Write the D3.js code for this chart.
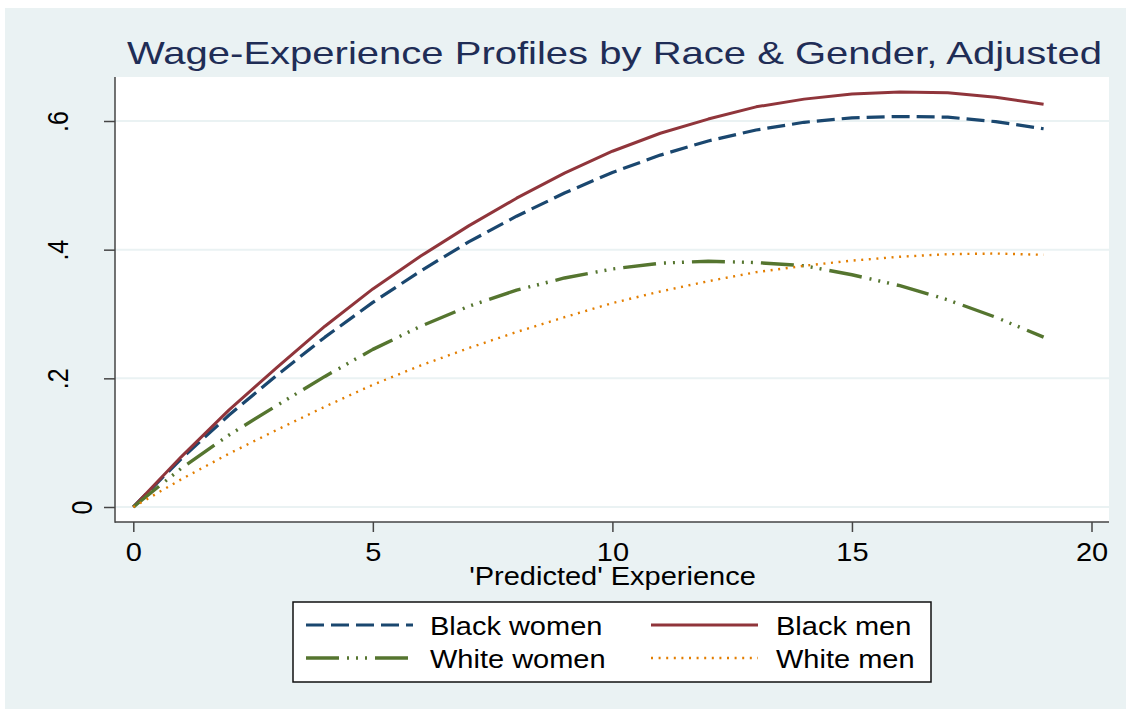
<!DOCTYPE html>
<html>
<head>
<meta charset="utf-8">
<script src="https://cdn.jsdelivr.net/npm/d3@7"></script>
<style>
  html, body { margin: 0; padding: 0; background: #ffffff; }
  svg { display: block; }
  text { font-family: "Liberation Sans", Arial, Helvetica, sans-serif; }
</style>
</head>
<body>
<svg id="chart" width="1126" height="709"></svg>
<script>
// ---------------- data ----------------
const experience = [0,1,2,3,4,5,6,7,8,9,10,11,12,13,14,15,16,17,18,19];
const blackWomen = [0,0.075,0.143,0.205,0.264,0.318,0.367,0.412,0.452,0.488,0.520,0.547,0.569,0.586,0.598,0.605,0.607,0.606,0.599,0.588];
const blackMen   = [0,0.078,0.151,0.217,0.281,0.339,0.390,0.437,0.480,0.519,0.553,0.581,0.603,0.622,0.634,0.642,0.645,0.644,0.637,0.626];
const whiteWomen = [0,0.060,0.112,0.158,0.203,0.245,0.281,0.312,0.337,0.356,0.370,0.379,0.382,0.380,0.375,0.361,0.344,0.322,0.295,0.264];
const whiteMen   = [0,0.043,0.083,0.120,0.156,0.190,0.220,0.247,0.272,0.295,0.317,0.335,0.351,0.365,0.375,0.383,0.389,0.393,0.394,0.392];

const seriesNames = ["Black women","Black men","White women","White men"];
const xTicks = [0,5,10,15,20];
const xTickLabels = ["0","5","10","15","20"];
const yTicks = [0,0.2,0.4,0.6];
const yTickLabels = ["0",".2",".4",".6"];
const titleText = "Wage-Experience Profiles by Race & Gender, Adjusted";
const xTitleText = "'Predicted' Experience";

// ---------------- styles ----------------
const STRETCH = 1.16;
const styles = [
  {color:"#1A476F", width:3.2, dash:"18,7"},
  {color:"#90353B", width:3.0, dash:null},
  {color:"#55752F", width:3.4, dash:"33,8,2,7,2,7,2,8"},
  {color:"#E37E00", width:2.4, dash:"2,5.6"}
];
const seriesData = [blackWomen, blackMen, whiteWomen, whiteMen];

const svg = d3.select("#chart");

// background
svg.append("rect").attr("x",5).attr("y",8).attr("width",1121).attr("height",701).attr("fill","#EAF2F3");

// plot region
const plot = {left:115, right:1109, top:77, bottom:522};
svg.append("rect").attr("x",plot.left).attr("y",plot.top)
  .attr("width",plot.right-plot.left).attr("height",plot.bottom-plot.top).attr("fill","#ffffff");

const x = d3.scaleLinear().domain([0,20]).range([133.3,1091.5]);
const y = d3.scaleLinear().domain([0,0.6]).range([507,121]);

// gridlines
svg.append("g").selectAll("line").data(yTicks).join("line")
  .attr("x1",plot.left).attr("x2",plot.right)
  .attr("y1",d=>y(d)).attr("y2",d=>y(d))
  .attr("stroke","#EAF2F3").attr("stroke-width",2);

// series lines
const line = d3.line().x((d,i)=>x(experience[i])).y(d=>y(d));
seriesData.forEach((vals,k)=>{
  const s = styles[k];
  const p = svg.append("path").datum(vals)
    .attr("d",line).attr("fill","none")
    .attr("stroke",s.color).attr("stroke-width",s.width)
    .attr("stroke-linejoin","round");
  if (s.dash) p.attr("stroke-dasharray",s.dash);
});

// axes
const axisColor = "#454545";
const yAxis = d3.axisLeft(y).tickValues(yTicks).tickSize(11).tickSizeOuter(0)
  .tickFormat((d,i)=>yTickLabels[i]);
const gy = svg.append("g").attr("transform",`translate(${plot.left},0)`).call(yAxis);
gy.select(".domain").remove();
gy.selectAll(".tick line").attr("stroke",axisColor).attr("stroke-width",1.5);
gy.selectAll(".tick text").each(function(d,i){
  const lab = yTickLabels[i];
  const off = 23 + (lab.length-1)*24;
  d3.select(this).attr("x",null).attr("dy",null).attr("y",null)
    .attr("text-anchor","middle")
    .attr("transform",`translate(${-off},0) scale(${STRETCH},1) rotate(-90)`)
    .attr("font-size",25).attr("fill","#000");
});
gy.attr("font-family",null);

const xAxis = d3.axisBottom(x).tickValues(xTicks).tickSize(10).tickSizeOuter(0)
  .tickFormat((d,i)=>xTickLabels[i]);
const gx = svg.append("g").attr("transform",`translate(0,${plot.bottom})`).call(xAxis);
gx.select(".domain").remove();
gx.selectAll(".tick line").attr("stroke",axisColor).attr("stroke-width",1.5);
gx.selectAll(".tick text").attr("y",null).attr("dy",null)
  .attr("transform",`translate(0,39) scale(${STRETCH},1)`)
  .attr("font-size",25).attr("fill","#000");
gx.attr("font-family",null);

// axis lines
svg.append("line").attr("x1",plot.left).attr("x2",plot.left).attr("y1",plot.top).attr("y2",plot.bottom+0.75)
  .attr("stroke",axisColor).attr("stroke-width",1.5);
svg.append("line").attr("x1",plot.left).attr("x2",plot.right).attr("y1",plot.bottom).attr("y2",plot.bottom)
  .attr("stroke",axisColor).attr("stroke-width",1.5);

// title
svg.append("text").attr("x",614.5).attr("y",64).attr("text-anchor","middle")
  .attr("font-size",32).attr("fill","#1F2D56")
  .attr("textLength",975).attr("lengthAdjust","spacingAndGlyphs")
  .text(titleText);

// x title
svg.append("text").attr("transform",`translate(612.5,585) scale(${STRETCH},1)`)
  .attr("text-anchor","middle").attr("font-size",25).attr("fill","#000")
  .text(xTitleText);

// legend
const lg = svg.append("g");
lg.append("rect").attr("x",293).attr("y",602).attr("width",638).attr("height",80)
  .attr("fill","#fff").attr("stroke","#111").attr("stroke-width",1.5);
const legPos = [
  {sx:306, tx:430, ly:625, ty:635},
  {sx:651, tx:776, ly:625, ty:635},
  {sx:306, tx:430, ly:658, ty:668},
  {sx:651, tx:776, ly:658, ty:668}
];
seriesNames.forEach((name,k)=>{
  const p = legPos[k], s = styles[k];
  const l = lg.append("line").attr("x1",p.sx).attr("x2",p.sx+107).attr("y1",p.ly).attr("y2",p.ly)
    .attr("stroke",s.color).attr("stroke-width",s.width);
  if (s.dash) l.attr("stroke-dasharray",s.dash);
  lg.append("text").attr("transform",`translate(${p.tx},${p.ty}) scale(${STRETCH},1)`)
    .attr("font-size",25).attr("fill","#000").text(name);
});
</script>
</body>
</html>
